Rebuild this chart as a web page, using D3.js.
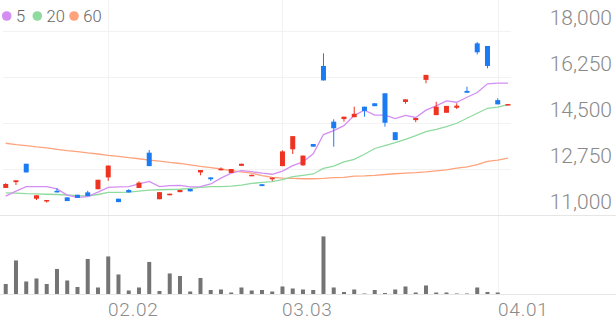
<!DOCTYPE html>
<html>
<head>
<meta charset="utf-8">
<script src="https://cdn.jsdelivr.net/npm/d3@7"></script>
<style>
  html, body { margin: 0; padding: 0; background: #fff; }
  svg { display: block; font-family: Roboto, sans-serif; }
</style>
</head>
<body>
<div id="chart"></div>
<script>
// trading days (2026), Jan 19 .. Apr 2
const dates = [
  '01.19','01.20','01.21','01.22','01.23','01.26','01.27','01.28','01.29','01.30',
  '02.02','02.03','02.04','02.05','02.06','02.09','02.10','02.11','02.12','02.13',
  '02.19','02.20','02.23','02.24','02.25','02.26','02.27',
  '03.03','03.04','03.05','03.06','03.09','03.10','03.11','03.12','03.13','03.16',
  '03.17','03.18','03.19','03.20','03.23','03.24','03.25','03.26','03.27','03.30','03.31',
  '04.01','04.02'
];

const opens  = [12030,12250,12950,11620,11520,11920,11670,11770,11860,11980,
                12430,11620,11950,12030,13370,11600,11750,11870,11990,12620,
                12430,12700,12600,12870,12480,12170,12360,12860,13500,12890,
                13700,16670,14550,14650,14720,15120,15250,15630,14150,15300,
                14610,16140,14800,14890,15080,15720,17530,17430,15370,15180];
const highs  = [12210,12320,12950,11750,11570,12020,11670,11770,11920,12340,
                12880,11620,11980,12280,13470,11870,11810,11950,11990,12710,
                12430,12810,12750,12950,12530,12170,12420,13460,14000,13260,
                13700,17150,14640,14740,15120,15120,15250,15630,14150,15400,
                14690,16330,15310,15150,15250,15880,17580,17430,15440,15220];
const lows   = [12030,12140,12620,11570,11470,11860,11530,11650,11720,11980,
                12300,11490,11860,12030,12860,11600,11750,11870,11900,12510,
                12300,12700,12600,12870,12480,12100,12290,12860,13320,12870,
                13600,16120,13600,14550,14720,14740,15140,14360,13850,15230,
                14530,16010,14800,14890,15030,15650,17110,16580,15210,15180];
const closes = [12180,12320,12620,11750,11570,11860,11530,11650,11720,12340,
                12880,11490,11860,12230,12860,11870,11810,11950,11900,12710,
                12360,12760,12750,12950,12530,12100,12420,13420,14000,13260,
                13600,16120,14300,14740,14850,14960,15140,14510,13850,15400,
                14690,16330,15120,15150,15160,15650,17190,16670,15210,15220];

// volume (thousand shares)
const volumes = [200,670,250,310,200,500,270,140,700,130,
                 750,390,70,130,640,60,410,360,50,320,
                 80,90,30,130,70,80,50,150,110,90,
                 80,1150,130,40,90,10,80,20,90,150,
                 30,170,30,30,10,10,130,40,30,0];

// moving averages as drawn
const ma5  = [11720,11910,12080,12080,12080,11990,11760,11670,11700,11870,
              12050,12070,12080,12180,12280,12080,12120,12130,12070,12080,
              12180,12400,12590,12690,12650,12590,12550,12670,12880,13020,
              13330,14060,14210,14400,14790,14990,14800,14800,14670,14790,
              14710,14990,15150,15340,15290,15480,15660,15990,16020,16020];
const ma20 = [11840,11830,11810,11800,11790,11780,11760,11740,11720,11780,
              11860,11860,11870,11910,11950,11960,11970,11980,12010,12050,
              12080,12080,12100,12140,12200,12240,12270,12350,12460,12510,
              12560,12770,12860,13020,13120,13310,13530,13640,13750,13880,
              14020,14170,14260,14360,14490,14680,14870,15060,15100,15200];
const ma60 = [13730,13680,13640,13590,13550,13500,13450,13410,13360,13320,
              13270,13230,13180,13140,13090,13050,13000,12960,12910,12850,
              12800,12750,12690,12640,12590,12500,12430,12400,12390,12380,
              12380,12390,12420,12430,12480,12490,12510,12540,12570,12590,
              12610,12640,12680,12720,12780,12830,12920,13040,13090,13160];

const maNames = ['5', '20', '60'];
const maColors = ['#d48ef2', '#8fdb9f', '#ffa37c'];
const yTicks = [11000, 12750, 14500, 16250, 18000];
const xTickLabels = ['02.02', '03.03', '04.01'];

const W = 616, H = 321;
const upColor = '#ee3322', downColor = '#1b7bf2';

const svg = d3.select('#chart').append('svg')
    .attr('width', W).attr('height', H);

const x = d3.scaleBand().domain(dates).range([0.6, 513.1]).padding(0);
const cx = d => x(d) + x.bandwidth() / 2;
const y = d3.scaleLinear().domain([11000, 18000]).range([215, 31]);
const yVol = d3.scaleLinear().domain([0, d3.max(volumes)]).range([294, 236.4]);

// gridlines
svg.append('g').selectAll('line')
    .data(yTicks.filter(t => t !== 11000))
    .join('line')
      .attr('x1', 3).attr('x2', 511)
      .attr('y1', d => y(d) + 0.5).attr('y2', d => y(d) + 0.5)
      .attr('stroke', '#f2f2f2');

svg.append('g').selectAll('line')
    .data(xTickLabels)
    .join('line')
      .attr('x1', d => Math.round(cx(d)) + 0.5).attr('x2', d => Math.round(cx(d)) + 0.5)
      .attr('y1', 0).attr('y2', 294)
      .attr('stroke', '#f2f2f2');

// panel baselines
[y(11000), yVol(0)].forEach(v => {
  svg.append('line')
    .attr('x1', 0).attr('x2', W)
    .attr('y1', v + 0.5).attr('y2', v + 0.5)
    .attr('stroke', '#e6e6e6');
});

// y-axis labels
svg.append('g').selectAll('text')
    .data(yTicks)
    .join('text')
      .attr('x', 612)
      .attr('y', d => y(d) - 6)
      .attr('text-anchor', 'end')
      .attr('fill', '#8a8a8a')
      .attr('font-size', '21px')
      .attr('font-weight', 300)
      .text(d => d3.format(',')(d));

// x-axis labels
svg.append('g').selectAll('text')
    .data(xTickLabels)
    .join('text')
      .attr('x', d => Math.round(cx(d)))
      .attr('y', 316)
      .attr('fill', '#8a8a8a')
      .attr('font-size', '19px')
      .attr('font-weight', 300)
      .attr('letter-spacing', '0.8px')
      .text(d => d);

// volume bars
svg.append('g').selectAll('rect')
    .data(dates)
    .join('rect')
      .attr('x', d => cx(d) - 2)
      .attr('width', 4)
      .attr('y', (d, i) => yVol(volumes[i]))
      .attr('height', (d, i) => yVol(0) - yVol(volumes[i]))
      .attr('fill', '#747474');

// moving averages
const line = d3.line().x((d, i) => cx(dates[i])).y(d => y(d));
[ma60, ma20, ma5].forEach((s, k) => {
  svg.append('path')
    .datum(s)
    .attr('d', line)
    .attr('fill', 'none')
    .attr('stroke', maColors[2 - k])
    .attr('stroke-width', 1.3);
});

// candles
const candles = svg.append('g').selectAll('g')
    .data(dates)
    .join('g');

candles.append('line')
    .attr('x1', d => cx(d)).attr('x2', d => cx(d))
    .attr('y1', (d, i) => y(highs[i]))
    .attr('y2', (d, i) => y(lows[i]))
    .attr('stroke', (d, i) => closes[i] >= opens[i] ? upColor : downColor)
    .attr('stroke-width', 1);

candles.append('rect')
    .attr('x', d => cx(d) - 2.5)
    .attr('width', 5)
    .attr('y', (d, i) => y(Math.max(opens[i], closes[i])))
    .attr('height', (d, i) => Math.max(1.5, Math.abs(y(opens[i]) - y(closes[i]))))
    .attr('fill', (d, i) => closes[i] >= opens[i] ? upColor : downColor);

// legend
const legend = svg.append('g');
const legendX = [6.7, 37.3, 74];
maNames.forEach((n, i) => {
  legend.append('circle')
    .attr('cx', legendX[i]).attr('cy', 16).attr('r', 4.8)
    .attr('fill', maColors[i]);
  legend.append('text')
    .attr('x', legendX[i] + 9.3).attr('y', 22)
    .attr('fill', '#666')
    .attr('font-size', '16.5px')
    .attr('font-weight', 300)
    .text(n);
});
</script>
</body>
</html>
